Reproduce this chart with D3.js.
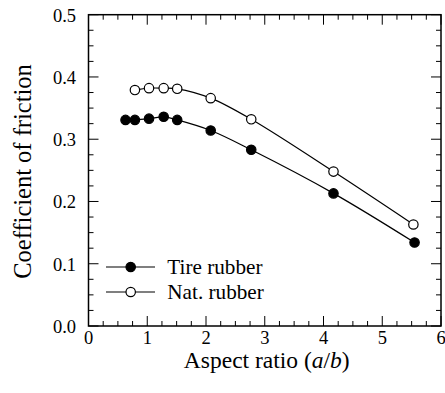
<!DOCTYPE html>
<html><head><meta charset="utf-8">
<script src="https://cdn.jsdelivr.net/npm/d3@7"></script>
<style>body{margin:0;background:#fff}</style>
</head><body><svg id="c" width="445" height="393" font-family="'Liberation Serif', 'Times New Roman', Times, 'DejaVu Serif', serif"></svg>
<script>
const tireX = [0.63, 0.79, 1.03, 1.28, 1.51, 2.08, 2.77, 4.17, 5.55];
const tireY = [0.331, 0.331, 0.333, 0.336, 0.331, 0.314, 0.283, 0.213, 0.134];
const natX = [0.79, 1.03, 1.28, 1.51, 2.08, 2.77, 4.17, 5.53];
const natY = [0.379, 0.382, 0.382, 0.381, 0.366, 0.332, 0.248, 0.163];
const xTicks = [0,1,2,3,4,5,6];
const yTicks = [0.0,0.1,0.2,0.3,0.4,0.5];
const seriesNames = ["Tire rubber","Nat. rubber"];

const svg = d3.select("#c");
const L=88.5,R=441,T=14.7,B=326;
const x = d3.scaleLinear().domain([0,6]).range([L,R]);
const y = d3.scaleLinear().domain([0,0.5]).range([B,T]);

const g = svg.append("g");
const minorX = d3.range(0,6.001,0.25), minorY = d3.range(0,0.5001,0.025);
function isMajor(v,step){return Math.abs(v/step-Math.round(v/step))<1e-6;}
minorX.forEach(v=>{const len=isMajor(v,1)?10:5;
  g.append("line").attr("x1",x(v)).attr("x2",x(v)).attr("y1",B).attr("y2",B-len).attr("stroke","#000").attr("stroke-width",1);
  g.append("line").attr("x1",x(v)).attr("x2",x(v)).attr("y1",T).attr("y2",T+len).attr("stroke","#000").attr("stroke-width",1);});
minorY.forEach(v=>{const len=isMajor(v,0.1)?10:5;
  g.append("line").attr("y1",y(v)).attr("y2",y(v)).attr("x1",L).attr("x2",L+len).attr("stroke","#000").attr("stroke-width",1);
  g.append("line").attr("y1",y(v)).attr("y2",y(v)).attr("x1",R).attr("x2",R-len).attr("stroke","#000").attr("stroke-width",1);});
g.append("rect").attr("x",L).attr("y",T).attr("width",R-L).attr("height",B-T).attr("fill","none").attr("stroke","#000").attr("stroke-width",1.5);

xTicks.forEach(v=>g.append("text").attr("x",x(v)).attr("y",B+17.5).attr("text-anchor","middle").attr("font-size",18.5).text(v));
yTicks.forEach(v=>g.append("text").attr("x",L-12.5).attr("y",y(v)+7).attr("text-anchor","end").attr("font-size",18.5).text(v.toFixed(1)));

const xl = g.append("text").attr("x",(L+R)/2+2).attr("y",368).attr("text-anchor","middle").attr("font-size",23.5);
xl.append("tspan").text("Aspect ratio (");
xl.append("tspan").attr("font-style","italic").text("a");
xl.append("tspan").text("/");
xl.append("tspan").attr("font-style","italic").text("b");
xl.append("tspan").text(")");
g.append("text").attr("transform",`translate(31,171.5) rotate(-90)`).attr("text-anchor","middle").attr("font-size",24.5).text("Coefficient of friction");

const line = d3.line().x(d=>x(d[0])).y(d=>y(d[1])).curve(d3.curveCatmullRom);
const series = [
  {xs:tireX, ys:tireY, fill:"#000"},
  {xs:natX, ys:natY, fill:"#fff"}
];
series.forEach(s=>{
  const pts = s.xs.map((v,i)=>[v,s.ys[i]]);
  g.append("path").attr("d",line(pts)).attr("fill","none").attr("stroke","#000").attr("stroke-width",1.2);
  g.selectAll(null).data(pts).enter().append("circle").attr("cx",d=>x(d[0])).attr("cy",d=>y(d[1])).attr("r",4.7)
    .attr("fill",s.fill).attr("stroke","#000").attr("stroke-width",1.2);
});
const ly=[267,292];
series.forEach((s,i)=>{
  g.append("line").attr("x1",106).attr("x2",155).attr("y1",ly[i]).attr("y2",ly[i]).attr("stroke","#000").attr("stroke-width",1.2);
  g.append("circle").attr("cx",130.7).attr("cy",ly[i]).attr("r",4.7).attr("fill",s.fill).attr("stroke","#000").attr("stroke-width",1.2);
  g.append("text").attr("x",167.3).attr("y",ly[i]+6.5).attr("font-size",21.2).text(seriesNames[i]);
});
</script></body></html>
